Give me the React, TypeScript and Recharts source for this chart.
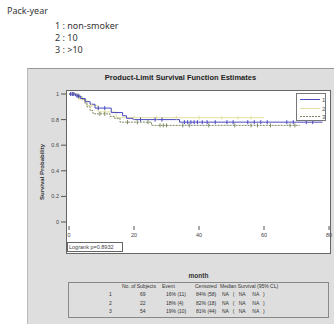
import { ComposedChart, Line, Scatter, XAxis, YAxis, Legend } from 'recharts';

// Kaplan-Meier step values (month, survival)
const g1Times = [0, 2, 3.5, 5, 6.5, 8, 13, 16.5, 17.7, 19.7, 34, 78];
const g1Surv = [1, 0.985, 0.965, 0.94, 0.92, 0.89, 0.855, 0.83, 0.81, 0.8, 0.78, 0.78];
const g2Times = [0, 3, 5.5, 9, 14.5, 60];
const g2Surv = [1, 0.955, 0.91, 0.86, 0.815, 0.815];
const g3Times = [0, 2.5, 4, 4.8, 5.5, 6.5, 7.4, 12.6, 14, 15.7, 25.4, 71];
const g3Surv = [1, 0.98, 0.96, 0.93, 0.9, 0.87, 0.845, 0.825, 0.81, 0.78, 0.755, 0.755];

// censored observations (months)
const g1Cens = [0.5, 1, 1.5, 2.5, 3, 9, 11, 22, 26.5, 28.6, 35.5, 36.5, 37.5, 38.5, 39.5, 41, 42.5, 45, 48.6, 50.5, 55, 57, 59, 61, 67, 69, 73, 75];
const g2Cens = [1, 7, 11, 20, 27, 33, 40, 47, 52, 56];
const g3Cens = [1.2, 3, 9.5, 11, 18, 21, 24.3, 28, 29, 30, 35, 37, 43, 51, 56, 58, 62, 68, 69.5];

const xTicks = [0, 20, 40, 60, 80];
const yTicks = [0, 0.2, 0.4, 0.6, 0.8, 1];

const headers = ['No. of Subjects', 'Event', 'Censored', 'Median Survival (95% CL)'];
const headerX = [122, 162, 195, 220];
const rowLabels = ['1', '2', '3'];
const subjects = ['69', '22', '54'];
const events = ['16% (11)', '18% (4)', '19% (10)'];
const censored = ['84% (58)', '82% (18)', '81% (44)'];
const medians = ['NA   (   NA     NA   )', 'NA   (   NA     NA   )', 'NA   (   NA     NA   )'];

const BLUE = '#4a4ac0';
const PALE = '#e4e0a4';
const OLIVE = '#7c8a64';

const toSteps = (times: number[], surv: number[]) => times.map((t, i) => ({ t, s: surv[i] }));
const survAt = (times: number[], surv: number[], t: number) => {
  let s = surv[0];
  times.forEach((tt, i) => { if (tt <= t) s = surv[i]; });
  return s;
};
const toCens = (cens: number[], times: number[], surv: number[]) =>
  cens.map((t) => ({ t, s: survAt(times, surv, t) }));

const CensorTick = (color: string) => (props: any) => {
  const { cx, cy } = props;
  return <line x1={cx} x2={cx} y1={cy - 2} y2={cy + 2} stroke={color} strokeWidth={1} />;
};

const LegendBox = () => (
  <div style={{ width: 30, height: 28, border: '1px solid #777', background: '#fff', boxSizing: 'border-box', position: 'relative' }}>
    {[BLUE, PALE, OLIVE].map((c, i) => (
      <svg key={i} width={30} height={9} style={{ position: 'absolute', left: 0, top: 1 + i * 8.5 }}>
        <line x1={3} x2={23} y1={4.5} y2={4.5} stroke={c} strokeWidth={1} strokeDasharray={i === 2 ? '2 1' : undefined} />
        <text x={25} y={7} fontSize={6} fill="#555" fontFamily="Liberation Sans">{i + 1}</text>
      </svg>
    ))}
  </div>
);

const font = 'Liberation Sans, Arial, sans-serif';
const small = { position: 'absolute' as const, fontSize: 5, color: '#333', whiteSpace: 'pre' as const };

export default function App() {
  return (
    <div style={{ position: 'absolute', left: 0, top: 0, width: 334, height: 324, overflow: 'hidden', background: '#fff', fontFamily: font }}>
      <div style={{ position: 'absolute', left: 7, top: 4, fontFamily: 'Noto Sans', fontSize: 9, color: '#333' }}>Pack-year</div>
      <div style={{ position: 'absolute', left: 55, top: 19, fontFamily: 'Noto Sans', fontSize: 9, color: '#333' }}>1 : non-smoker</div>
      <div style={{ position: 'absolute', left: 55, top: 31, fontFamily: 'Noto Sans', fontSize: 9, color: '#333' }}>2 : 10</div>
      <div style={{ position: 'absolute', left: 55, top: 43, fontFamily: 'Noto Sans', fontSize: 9, color: '#333' }}>3 : &gt;10</div>

      <div style={{ position: 'absolute', left: 27, top: 68, width: 307, height: 256, background: '#dedede', borderTop: '1px solid #999', borderLeft: '1px solid #bbb', boxSizing: 'border-box' }} />
      <div style={{ position: 'absolute', left: 27, top: 73, width: 307, textAlign: 'center', fontSize: 7.5, fontWeight: 'bold', color: '#222' }}>
        Product-Limit Survival Function Estimates
      </div>
      <div style={{ position: 'absolute', left: 66, top: 90, width: 265, height: 164, background: '#fff', border: '1px solid #666', boxSizing: 'border-box' }} />
      <div style={{ position: 'absolute', left: 42, top: 172, transform: 'translate(-50%, -50%) rotate(-90deg)', fontSize: 6, fontWeight: 'bold', color: '#333', whiteSpace: 'nowrap' }}>
        Survival Probability
      </div>
      <div style={{ position: 'absolute', left: 66, top: 272, width: 265, textAlign: 'center', fontSize: 6.5, fontWeight: 'bold', color: '#333' }}>month</div>

      <div style={{ position: 'absolute', left: 27, top: 68 }}>
        <ComposedChart width={307} height={256} margin={{ top: 22, right: 3, left: 9, bottom: 50 }}>
          <XAxis dataKey="t" type="number" domain={[0, 80]} ticks={xTicks} padding={{ left: 3, right: 2 }}
            axisLine={false} tickLine={{ stroke: '#555' }} tickSize={4} tickMargin={3}
            tick={{ fontSize: 5.5, fill: '#444', fontFamily: font }} height={20} />
          <YAxis type="number" domain={[0, 1]} ticks={yTicks} padding={{ top: 4, bottom: 4 }}
            axisLine={false} tickLine={{ stroke: '#555' }} tickSize={5} tickMargin={2} width={30}
            tick={{ fontSize: 5.5, fill: '#444', fontFamily: font }} tickFormatter={(v: number) => String(v)} />
          <Legend content={() => <LegendBox />} wrapperStyle={{ position: 'absolute', left: 269, top: 25, width: 30 }} />
          <Line data={toSteps(g2Times, g2Surv)} dataKey="s" type="stepAfter" stroke={PALE} strokeWidth={1} dot={false} isAnimationActive={false} />
          <Line data={toSteps(g3Times, g3Surv)} dataKey="s" type="stepAfter" stroke={OLIVE} strokeWidth={1} strokeDasharray="2 1" dot={false} isAnimationActive={false} />
          <Line data={toSteps(g1Times, g1Surv)} dataKey="s" type="stepAfter" stroke={BLUE} strokeWidth={1} dot={false} isAnimationActive={false} />
          <Scatter data={toCens(g2Cens, g2Times, g2Surv)} dataKey="s" shape={CensorTick(PALE)} isAnimationActive={false} />
          <Scatter data={toCens(g3Cens, g3Times, g3Surv)} dataKey="s" shape={CensorTick(OLIVE)} isAnimationActive={false} />
          <Scatter data={toCens(g1Cens, g1Times, g1Surv)} dataKey="s" shape={CensorTick(BLUE)} isAnimationActive={false} />
        </ComposedChart>
      </div>

      <div style={{ position: 'absolute', left: 67, top: 242, width: 56, height: 10, border: '1px solid #666', boxSizing: 'border-box', fontSize: 5.5, color: '#444', lineHeight: '8px', paddingLeft: 1, background: '#fff' }}>
        Logrank p=0.8932
      </div>

      <div style={{ position: 'absolute', left: 68, top: 282, width: 261, height: 36, border: '1px solid #888', boxSizing: 'border-box' }} />
      {headers.map((h, i) => (
        <div key={h} style={{ ...small, left: headerX[i], top: 283 }}>{h}</div>
      ))}
      {rowLabels.map((r, i) => (
        <div key={r}>
          <span style={{ ...small, left: 109, top: 291 + i * 8.5 }}>{r}</span>
          <span style={{ ...small, left: 140, top: 291 + i * 8.5 }}>{subjects[i]}</span>
          <span style={{ ...small, left: 166, top: 291 + i * 8.5 }}>{events[i]}</span>
          <span style={{ ...small, left: 196, top: 291 + i * 8.5 }}>{censored[i]}</span>
          <span style={{ ...small, left: 222, top: 291 + i * 8.5 }}>{medians[i]}</span>
        </div>
      ))}
    </div>
  );
}
